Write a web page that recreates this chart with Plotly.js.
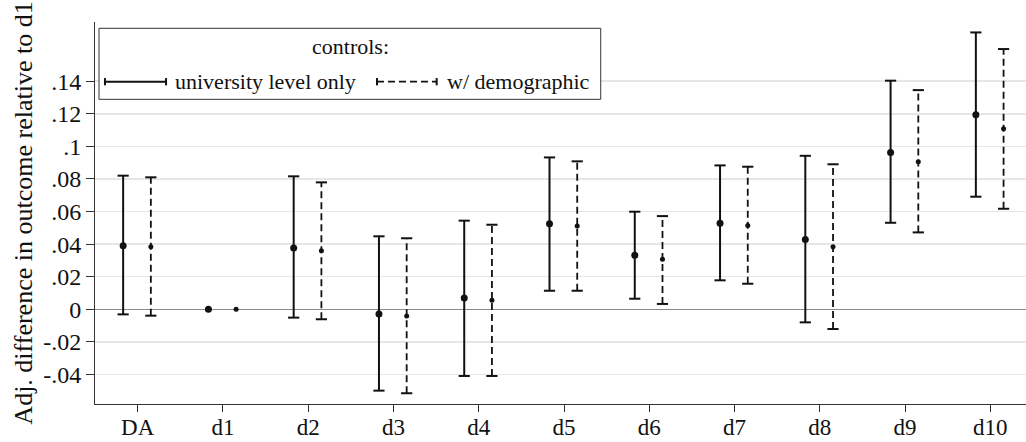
<!DOCTYPE html>
<html>
<head>
<meta charset="utf-8">
<script src="https://cdn.plot.ly/plotly-3.0.1.min.js"></script>
<style>html,body{margin:0;padding:0;background:#fff;}#chart{width:1026px;height:442px;}</style>
</head>
<body>
<div id="chart"></div>
<script>
const categories = ["DA","d1","d2","d3","d4","d5","d6","d7","d8","d9","d10"];
const uniEst = [0.0390, 0.0000, 0.0376, -0.0029, 0.0069, 0.0525, 0.0331, 0.0528, 0.0429, 0.0963, 0.1194];
const uniLo  = [-0.0031, null, -0.0051, -0.0499, -0.0409, 0.0114, 0.0065, 0.0178, -0.0080, 0.0531, 0.0691];
const uniHi  = [0.0820, null, 0.0816, 0.0448, 0.0544, 0.0932, 0.0599, 0.0883, 0.0942, 0.1403, 0.1699];
const demEst = [0.0384, 0.0000, 0.0360, -0.0041, 0.0055, 0.0511, 0.0307, 0.0515, 0.0384, 0.0906, 0.1108];
const demLo  = [-0.0039, null, -0.0061, -0.0515, -0.0409, 0.0114, 0.0033, 0.0157, -0.0121, 0.0472, 0.0617];
const demHi  = [0.0810, null, 0.0779, 0.0436, 0.0519, 0.0908, 0.0572, 0.0875, 0.0890, 0.1345, 0.1597];
const yTickVals = [-0.04,-0.02,0,0.02,0.04,0.06,0.08,0.10,0.12,0.14];
const yTickText = ["-.04","-.02","0",".02",".04",".06",".08",".1",".12",".14"];
const legendTitle = "controls:";
const seriesNames = ["university level only","w/ demographic"];
const yTitle = "Adj. difference in outcome relative to d1";

const FONT = "Liberation Serif";
const INK = "#111";
const offU = -0.17, offD = 0.155;
const idx = categories.map((c,i)=>i);

function ciLines(off, lo, hi){
  const x=[], y=[];
  idx.forEach(i=>{ if(lo[i]!==null){ x.push(i+off,i+off,null); y.push(lo[i],hi[i],null);} });
  return {x,y};
}
function caps(off, lo, hi){
  const x=[], y=[];
  idx.forEach(i=>{ if(lo[i]!==null){ x.push(i+off,i+off); y.push(lo[i],hi[i]);} });
  return {x,y};
}
const uL = ciLines(offU, uniLo, uniHi), dL = ciLines(offD, demLo, demHi);
const uC = caps(offU, uniLo, uniHi), dC = caps(offD, demLo, demHi);

const traces = [
  {x:uL.x, y:uL.y, mode:"lines", line:{color:INK,width:2}, hoverinfo:"skip", showlegend:false, cliponaxis:false},
  {x:uC.x, y:uC.y, mode:"markers", marker:{symbol:"line-ew", size:8, line:{color:INK,width:2}}, hoverinfo:"skip", showlegend:false, cliponaxis:false},
  {x:idx.map(i=>i+offU), y:uniEst, mode:"markers", marker:{symbol:"circle", size:7, color:INK}, name:seriesNames[0], showlegend:false, cliponaxis:false},
  {x:dL.x, y:dL.y, mode:"lines", line:{color:INK,width:1.8,dash:"7px,4px"}, hoverinfo:"skip", showlegend:false, cliponaxis:false},
  {x:dC.x, y:dC.y, mode:"markers", marker:{symbol:"line-ew", size:8, line:{color:INK,width:2}}, hoverinfo:"skip", showlegend:false, cliponaxis:false},
  {x:idx.map(i=>i+offD), y:demEst, mode:"markers", marker:{symbol:"circle", size:5, color:INK}, name:seriesNames[1], showlegend:false, cliponaxis:false}
];

// manual legend (paper coordinates)
const lgY = 0.8437, capH = 0.0095;
const shapes = [
  {type:"rect", xref:"paper", yref:"paper", x0:0.0043, x1:0.5432, y0:0.7976, y1:0.9835, line:{color:"#333",width:1}, fillcolor:"#fff", layer:"above"},
  {type:"line", xref:"paper", yref:"paper", x0:0.0107, x1:0.0763, y0:lgY, y1:lgY, line:{color:INK,width:2}},
  {type:"line", xref:"paper", yref:"paper", x0:0.0107, x1:0.0107, y0:lgY-capH, y1:lgY+capH, line:{color:INK,width:2}},
  {type:"line", xref:"paper", yref:"paper", x0:0.0763, x1:0.0763, y0:lgY-capH, y1:lgY+capH, line:{color:INK,width:2}},
  {type:"line", xref:"paper", yref:"paper", x0:0.3029, x1:0.3670, y0:lgY, y1:lgY, line:{color:INK,width:1.8,dash:"7px,4px"}},
  {type:"line", xref:"paper", yref:"paper", x0:0.3029, x1:0.3029, y0:lgY-capH, y1:lgY+capH, line:{color:INK,width:2}},
  {type:"line", xref:"paper", yref:"paper", x0:0.3670, x1:0.3670, y0:lgY-capH, y1:lgY+capH, line:{color:INK,width:2}}
];
const annotations = [
  {xref:"paper", yref:"paper", x:0.274, y:0.935, text:legendTitle, showarrow:false, xanchor:"center", yanchor:"middle", font:{family:FONT,size:22,color:INK}},
  {xref:"paper", yref:"paper", x:0.0859, y:lgY, text:seriesNames[0], showarrow:false, xanchor:"left", yanchor:"middle", xshift:-2, font:{family:FONT,size:22,color:INK}},
  {xref:"paper", yref:"paper", x:0.3778, y:lgY, text:seriesNames[1], showarrow:false, xanchor:"left", yanchor:"middle", xshift:-2, font:{family:FONT,size:22,color:INK}}
];

const layout = {
  width:1026, height:442,
  margin:{l:95, r:0, t:22, b:38, pad:0},
  paper_bgcolor:"#fff", plot_bgcolor:"#fff",
  font:{family:FONT, size:24, color:INK},
  showlegend:false,
  xaxis:{
    range:[-0.5, 10.418], tickvals:idx, ticktext:categories,
    showgrid:false, zeroline:false, showline:true, linecolor:"#333", linewidth:1,
    ticks:"outside", ticklen:7, tickcolor:"#333", tickwidth:1,
    ticklabelstandoff:-5,
    tickfont:{family:FONT,size:23,color:INK}, fixedrange:true
  },
  yaxis:{
    range:[-0.0581, 0.1763], tickvals:yTickVals, ticktext:yTickText,
    showgrid:true, gridcolor:"#e6e6e6", gridwidth:1.5,
    zeroline:true, zerolinecolor:"#8a8a8a", zerolinewidth:1.5,
    showline:true, linecolor:"#333", linewidth:1,
    ticks:"outside", ticklen:8, tickcolor:"#333", tickwidth:1,
    tickfont:{family:FONT,size:24,color:INK},
    title:{text:yTitle, font:{family:FONT,size:26,color:INK}, standoff:3}
  },
  shapes, annotations
};
Plotly.newPlot("chart", traces, layout, {displayModeBar:false, staticPlot:true});
</script>
</body>
</html>
